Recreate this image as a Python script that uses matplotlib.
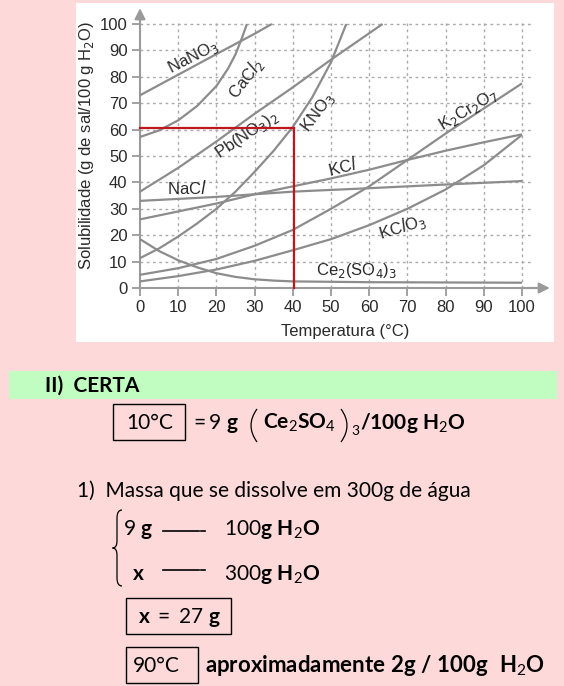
import matplotlib.pyplot as plt
from matplotlib.patches import Rectangle, PathPatch
from matplotlib.path import Path
from matplotlib.lines import Line2D

W, H = 564, 686

plt.rcParams['font.family'] = ['Liberation Sans', 'DejaVu Sans']
plt.rcParams['mathtext.fontset'] = 'custom'
plt.rcParams['mathtext.rm'] = 'Lato'
plt.rcParams['mathtext.bf'] = 'Lato:bold'
plt.rcParams['mathtext.it'] = 'Lato:italic'

# solubility curves (g of salt / 100 g water)
temp_nano3 = [0, 10, 20, 30, 34.5]
sol_nano3 = [73, 80.8, 88.6, 96.3, 100]

temp_cacl2 = [0, 5, 10, 15, 20, 23, 25, 26.5, 28]
sol_cacl2 = [57.2, 59.7, 63.5, 69, 76.5, 83, 88.5, 94, 100]

temp_pbno32 = [0, 10, 20, 30, 40, 50, 63.5]
sol_pbno32 = [36.5, 45.5, 55.5, 66, 76, 86.5, 100]

temp_kno3 = [0, 5, 10, 15, 20, 25, 30, 35, 40, 45, 50, 54]
sol_kno3 = [11.3, 15, 19.5, 24.5, 30, 36.5, 44, 52, 61, 72, 85.5, 100]

temp_k2cr2o7 = [0, 10, 20, 30, 40, 50, 60, 70, 80, 90, 100]
sol_k2cr2o7 = [5, 7.5, 11, 16, 22, 30, 38.5, 48.5, 58.5, 68, 77.5]

temp_kcl = [0, 10, 20, 30, 40, 50, 60, 70, 80, 90, 100]
sol_kcl = [26, 29, 32, 35.5, 38.5, 41.5, 44.8, 48.5, 52, 55.2, 58.2]

temp_nacl = [0, 20, 40, 60, 80, 100]
sol_nacl = [33, 34.5, 36.5, 37.8, 39.2, 40.5]

temp_kclo3 = [0, 10, 20, 30, 40, 50, 60, 70, 80, 90, 100]
sol_kclo3 = [2.5, 4.5, 7, 10.3, 14.3, 18.5, 23.8, 30, 37.3, 46.5, 58]

temp_ce2so43 = [0, 5, 10, 15, 20, 25, 30, 35, 40, 60, 80, 100]
sol_ce2so43 = [18.5, 14, 10.5, 7.8, 5.6, 4.2, 3.3, 2.8, 2.5, 2.2, 2.1, 2.0]

# point marked in red
red_temp = 40.3
red_sol = 60.5

x_ticks = list(range(0, 101, 10))
y_ticks = list(range(0, 101, 10))

curves = [
    (temp_nano3, sol_nano3, r'NaNO$_3$', 13.8, 87.6, 27),
    (temp_cacl2, sol_cacl2, r'CaC$\mathit{l}_2$', 27.6, 79.5, 52),
    (temp_pbno32, sol_pbno32, r'Pb(NO$_3$)$_2$', 28.1, 58.2, 34),
    (temp_kno3, sol_kno3, r'KNO$_3$', 46.6, 66.5, 53),
    (temp_k2cr2o7, sol_k2cr2o7, r'K$_2$Cr$_2$O$_7$', 85.9, 67.5, 31),
    (temp_kcl, sol_kcl, r'KC$\mathit{l}$', 53.1, 45.8, 14),
    (temp_nacl, sol_nacl, r'NaC$\mathit{l}$', 12.4, 37.8, 0),
    (temp_kclo3, sol_kclo3, r'KC$\mathit{l}$O$_3$', 68.8, 23.2, 17),
    (temp_ce2so43, sol_ce2so43, r'Ce$_2$(SO$_4$)$_3$', 56.8, 6.6, 0),
]

axis_gray = '#9a9a9a'
curve_gray = '#8c8c8c'
text_dark = '#2a2a2a'


def fx(x):
    return x / W


def fy(y):
    return 1 - y / H


fig = plt.figure(figsize=(W / 100, H / 100), dpi=100)
fig.patch.set_facecolor('#FDD9D9')

# white panel behind the chart
fig.add_artist(Rectangle((fx(76), fy(342)), (554 - 76) / W, (342 - 3) / H,
                         transform=fig.transFigure, facecolor='white',
                         edgecolor='none', zorder=0))

# axes placed so that 0..100 maps onto the drawn grid
xmin, xmax, ymin, ymax = -3, 110, -3, 108
ax_l = 140 + 3.82 * xmin
ax_r = 140 + 3.82 * xmax
ax_t = 288 - 2.64 * ymax
ax_b = 288 - 2.64 * ymin
ax = fig.add_axes([fx(ax_l), fy(ax_b), (ax_r - ax_l) / W, (ax_b - ax_t) / H])
ax.set_xlim(xmin, xmax)
ax.set_ylim(ymin, ymax)
ax.patch.set_alpha(0)

for side in ['top', 'right']:
    ax.spines[side].set_visible(False)
for side in ['left', 'bottom']:
    ax.spines[side].set_position(('data', 0))
    ax.spines[side].set_color(axis_gray)
    ax.spines[side].set_linewidth(1.5)
ax.spines['bottom'].set_bounds(0, 104)
ax.spines['left'].set_bounds(0, 103)
ax.annotate('', xy=(107.3, 0), xytext=(100, 0),
            arrowprops=dict(arrowstyle='-|>', color=axis_gray, lw=1.5,
                            mutation_scale=16, shrinkA=0, shrinkB=0))
ax.annotate('', xy=(0, 106), xytext=(0, 100),
            arrowprops=dict(arrowstyle='-|>', color=axis_gray, lw=1.5,
                            mutation_scale=16, shrinkA=0, shrinkB=0))

ax.set_xticks(x_ticks)
ax.set_yticks(y_ticks)
ax.tick_params(axis='both', colors=axis_gray, labelcolor=text_dark,
               labelsize=12, length=6, width=1.3, direction='out', pad=3)

# dotted grid
for t in x_ticks[1:]:
    ax.plot([t, t], [0, 100.5], color='#aaaaaa', lw=1,
            linestyle=(0, (2, 2.5)), zorder=1)
for t in y_ticks[1:]:
    ax.plot([0, 103], [t, t], color='#aaaaaa', lw=1,
            linestyle=(0, (2, 2.5)), zorder=1)

for temps, sols, label, lx, ly, rot in curves:
    ax.plot(temps, sols, color=curve_gray, lw=1.6, zorder=3,
            solid_capstyle='butt')
    ax.text(lx, ly, label, rotation=rot, rotation_mode='anchor',
            ha='center', va='center', fontsize=12, color=text_dark,
            math_fontfamily='dejavusans', zorder=4)

ax.plot([0, red_temp], [red_sol, red_sol], color='#C0141E', lw=1.6, zorder=5)
ax.plot([red_temp, red_temp], [red_sol, 0], color='#C0141E', lw=1.6, zorder=5)

fig.text(fx(87), fy(145), r'Solubilidade (g de sal/100 g H$_2$O)',
         rotation=90, ha='center', va='center', fontsize=12,
         color=text_dark, math_fontfamily='dejavusans')
fig.text(fx(345), fy(331), 'Temperatura (°C)', ha='center', va='center',
         fontsize=12, color=text_dark)

# ---- worked answer below the chart ----
fig.add_artist(Rectangle((fx(9), fy(399)), (557 - 9) / W, 28 / H,
                         transform=fig.transFigure, facecolor='#C1FDC1',
                         edgecolor='none', zorder=0))


def note(x, y, s, bold=False, size=15, va='baseline'):
    fig.text(fx(x), fy(y), s, ha='left', va=va, fontsize=size,
             family='Lato', fontweight='bold' if bold else 'normal',
             color='black')


def box(x0, y0, x1, y1):
    fig.add_artist(Rectangle((fx(x0), fy(y1)), (x1 - x0) / W, (y1 - y0) / H,
                             transform=fig.transFigure, facecolor='none',
                             edgecolor='black', lw=1))


def dash(x0, x1, y):
    fig.add_artist(Line2D([fx(x0), fx(x1)], [fy(y), fy(y)],
                          transform=fig.transFigure, color='black', lw=1.2))


def curl(pts, lw=0.9):
    # thin curved stroke (tall brackets) given in pixel coordinates
    n = len(pts)
    codes = [Path.MOVETO] + [Path.CURVE3] * (n - 1)
    fig.add_artist(PathPatch(Path([(fx(a), fy(b)) for a, b in pts], codes),
                             transform=fig.transFigure, facecolor='none',
                             edgecolor='black', lw=lw))


note(45, 392, 'II)  CERTA', bold=True)

box(113, 404, 185, 440)
note(126, 429, '10°C')
note(190, 429, r'$=9\ \mathbf{g}$')
curl([(257, 409), (245, 425.5), (257, 442)])
note(263, 429, r'$\mathbf{Ce}_2\mathbf{SO}_4$')
curl([(341, 409), (353, 425.5), (341, 442)])
note(351, 435, '3', size=10)
note(360, 429, r'$\mathbf{/100g\ H}_2\mathbf{O}$')

note(77, 497, '1)  Massa que se dissolve em 300g de água')

# brace
curl([(122, 510), (117, 510), (117, 518)])
curl([(117, 518), (117, 530), (117, 541)])
curl([(117, 541), (117, 548), (112.5, 548), (117, 548), (117, 555)])
curl([(117, 555), (117, 566), (117, 578)])
curl([(117, 578), (117, 586), (122, 586)])

note(123, 535, r'$9\ \mathbf{g}$')
dash(163, 199, 530.5)
dash(201.5, 205, 530.5)
note(224, 535, r'$100\mathbf{g\ H}_2\mathbf{O}$')

note(132, 580, r'$\mathbf{x}$')
dash(163, 199, 570)
dash(201.5, 205, 570)
note(224, 580, r'$300\mathbf{g\ H}_2\mathbf{O}$')

box(126, 598, 231, 634)
note(138, 623, r'$\mathbf{x}\ =\ 27\ \mathbf{g}$')

box(126, 647, 198, 683)
note(133, 672, '90°C')
note(205, 672, r'$\mathbf{aproximadamente\ 2g\ /\ 100g\ \ H}_2\mathbf{O}$',
     size=16)

fig.savefig('out.png', dpi=100, facecolor=fig.get_facecolor())
